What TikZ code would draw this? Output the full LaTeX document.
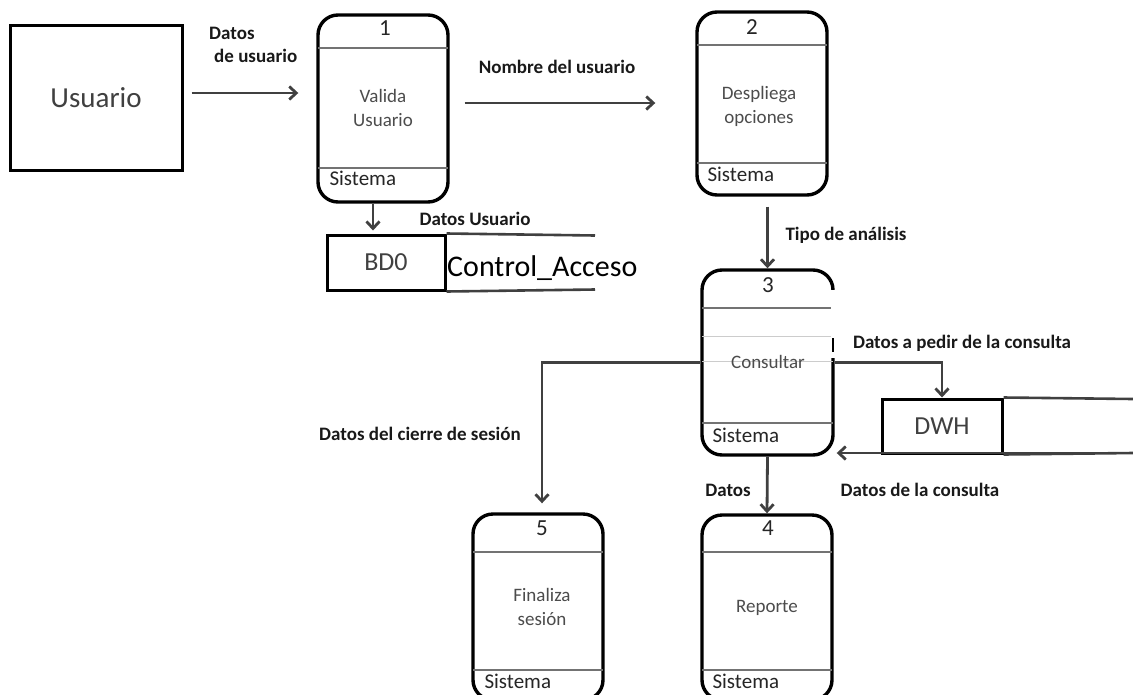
\documentclass[tikz,border=0pt]{standalone}
\usepackage{fontspec}
\setmainfont{Carlito}
\usetikzlibrary{arrows.meta,calc}
\tikzset{
  ent/.style={draw=black, line width=3pt, fill=white, font=\fontsize{29}{32}\selectfont, text=black!75},
  proc/.style={draw=black, line width=3.4pt, rounded corners=20pt, fill=white, inner sep=0pt},
  ptext/.style={font=\fontsize{19}{24}\selectfont, text=black!70, align=center},
  pnum/.style={font=\fontsize{23}{24}\selectfont, text=black!85},
  psys/.style={font=\fontsize{21}{22}\selectfont, text=black!85, anchor=west},
  div/.style={draw=black!55, line width=1.4pt},
  divlight/.style={draw=black!20, line width=1pt},
  store/.style={draw=black, line width=3pt, fill=white, font=\fontsize{26}{28}\selectfont, text=black!75, inner sep=0pt},
  sline/.style={draw=black!75, line width=2.6pt},
  flow/.style={draw=black!75, line width=2.8pt, -{Straight Barb[length=7pt,width=13pt,line width=2.8pt]}},
  lbl/.style={font=\bfseries\fontsize{19}{21}\selectfont, text=black!90, inner sep=0pt},
}
\begin{document}
\begin{tikzpicture}[x=1pt,y=-1pt]
\useasboundingbox (0,0) rectangle (1133,694);
\clip (0,0) rectangle (1133,694);
% external entity
\node[ent, minimum width=172pt, minimum height=145pt] (u) at (96,97.5) {Usuario};
% processes
\node[proc, minimum width=130pt, minimum height=187pt] (p1) at (383,108.5) {};
\node[proc, minimum width=130pt, minimum height=183pt] (p2) at (762,103.5) {};
\node[proc, minimum width=131pt, minimum height=185pt] (p3) at (767.5,362.5) {};
\node[proc, minimum width=130pt, minimum height=186pt] (p5) at (538,607) {};
\node[proc, minimum width=130pt, minimum height=185pt] (p4) at (767,607.5) {};
% dividers
\draw[div] (318,48) -- (448,48) (318,168) -- (448,168);
\draw[div] (697,45) -- (827,45) (697,163) -- (827,163);
\draw[div] (702,308) -- (833,308) (702,423) -- (833,423);
\draw[divlight] (702,336) -- (833,336) (702,361) -- (833,361);
\draw[div] (473,552) -- (603,552) (473,670) -- (603,670);
\draw[div] (702,552) -- (832,552) (702,670) -- (832,670);
% gap artifact on P3 right border
\fill[white] (831,290) rectangle (836,358);
\draw[black, line width=2.5pt] (833,338) -- (833,352);
% process texts
\node[pnum] (n1) at (385,28) {1};
\node[ptext] (t1) at (383,108) {Valida\\Usuario};
\node[psys] (s1) at (326,178) {Sistema};
\node[pnum] (n2) at (752,27) {2};
\node[ptext] (t2) at (759,106) {Despliega\\opciones};
\node[psys] (s2) at (704,174) {Sistema};
\node[pnum] (n3) at (768,285) {3};
\node[ptext] (t3) at (768,362) {Consultar};
\node[psys] (s3) at (709,435) {Sistema};
\node[pnum] (n5) at (542,528) {5};
\node[ptext] (t5) at (542,607) {Finaliza\\sesión};
\node[psys] (s5) at (481,681) {Sistema};
\node[pnum] (n4) at (768,528) {4};
\node[ptext] (t4) at (767,608) {Reporte};
\node[psys] (s4) at (709,681) {Sistema};
% data stores
\node[store, minimum width=118pt, minimum height=55pt] (bd) at (386,262.5) {BD0};
\coordinate (bdE1) at (595,235.5);
\coordinate (bdE2) at (595,289.5);
\draw[sline] (bd.north east) -- (bdE1);
\draw[sline] (bd.south east) -- (bdE2);
\node[anchor=west, font=\fontsize{30}{32}\selectfont, inner sep=0pt] (ca) at (447,268) {Control\_Acceso};
\node[store, minimum width=120pt, minimum height=54pt] (dwh) at (942,426) {DWH};
\coordinate (dwE1) at (1133,399);
\coordinate (dwE2) at (1133,453);
\draw[sline] (dwh.north east) -- (dwE1);
\draw[sline] (dwh.south east) -- (dwE2);
% flows
\coordinate (a1) at ([xshift=8pt,yshift=4.5pt]u.east);
\draw[flow, shorten >=18pt] (a1) -- (a1 -| p1.west);
\coordinate (a2) at ([xshift=15pt,yshift=5.5pt]p1.east);
\draw[flow, shorten >=40pt] (a2) -- (a2 -| p2.west);
\coordinate (a3) at ([xshift=-10pt]p1.south);
\draw[flow, shorten >=3pt] (a3) -- (a3 |- bd.north);
\coordinate (a4) at ([yshift=-10pt]p2.south -| p3.north);
\draw[flow] (a4) -- (p3.north);
\coordinate (a5) at ([xshift=4pt,yshift=9pt]p5.north);
\draw[flow] (p3.west) -| (a5);
\draw[flow] (p3.east) -| (dwh.north);
\draw[flow, shorten >=2pt] (dwE2) -- (dwE2 -| p3.east);
\draw[flow] (p3.south) -- (p4.north);
% labels
\node[lbl, anchor=north west, align=left] (l1) at (209,27) {Datos\\[2pt]\hspace*{5pt}de usuario};
\node[lbl] (l2) at (557,67) {Nombre del usuario};
\node[lbl] (l3) at (475,219) {Datos Usuario};
\node[lbl] (l4) at (846,235) {Tipo de análisis};
\node[lbl] (l5) at (962,343) {Datos a pedir de la consulta};
\node[lbl] (l6) at (420,434) {Datos del cierre de sesión};
\node[lbl] (l7) at (920,490) {Datos de la consulta};
\node[lbl] (l8) at (728,490) {Datos};
\end{tikzpicture}
\end{document}
